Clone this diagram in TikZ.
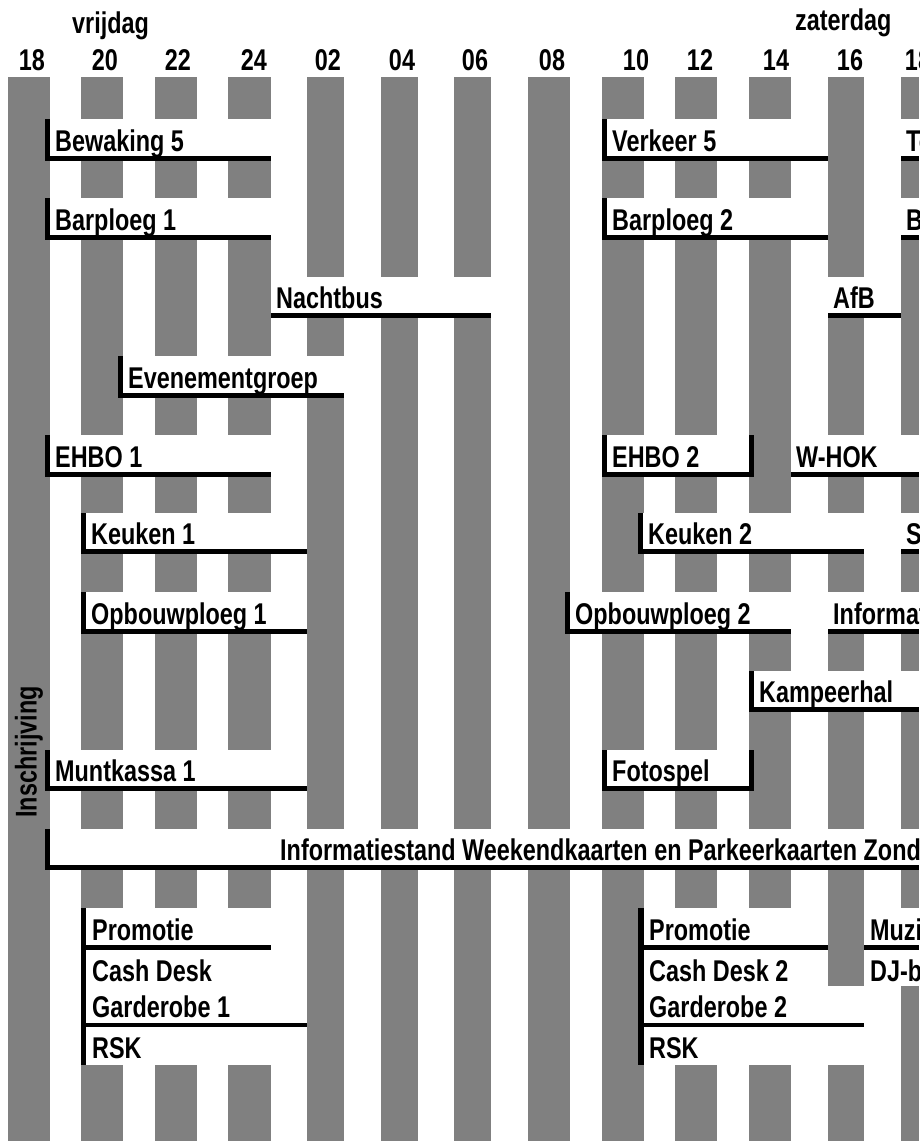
\documentclass[tikz,border=0pt]{standalone}
\usepackage{fontspec}
\newfontfamily\lblfont{Liberation Sans}[FakeStretch=0.78]
\definecolor{stripegray}{HTML}{808080}
\tikzset{
  lbl/.style={anchor=base west, inner sep=0pt, font=\lblfont\bfseries\fontsize{30}{34}\selectfont},
  hour/.style={anchor=base, inner sep=0pt, font=\lblfont\bfseries\fontsize{30}{34}\selectfont}
}
% name, x1, y1, x2, y2, leftbar(1/0), text
\newcommand\tslot[7]{%
  \fill[white] (#2,#3) rectangle (#4,#5);
  \fill[black] (#2,#5-5) rectangle (#4,#5);
  \ifnum#6=1 \fill[black] (#2,#3) rectangle (#2+5,#5);\fi
  \node[lbl] (#1) at (#2+5+5*#6,#5-10) {#7};
}
\begin{document}
\begin{tikzpicture}[x=1pt,y=-1pt]
\useasboundingbox (0,0) rectangle (919,1141);
\clip (0,0) rectangle (919,1141);
\fill[white] (0,0) rectangle (919,1141);
% stripes
\foreach \a/\b in {8/50,81/123,155/197,228/271,307/344,381/418,454/491,528/570,602/644,675/717,749/791,828/864,901/919}
  \fill[stripegray] (\a,77) rectangle (\b,1141);
% headers
\node[lbl] (vrij) at (72,33) {vrijdag};
\node[lbl] (zat) at (795,30) {zaterdag};
\foreach \x/\t [count=\i] in {32/18,105/20,178/22,254/24,328/02,402/04,475/06,552/08,636/10,700/12,776/14,850/16,918/18}
  \node[hour] (h\i) at (\x,70) {\t};
% row 1
\tslot{a1}{45}{119}{271}{161}{1}{Bewaking 5}
\tslot{a2}{602}{119}{828}{161}{1}{Verkeer 5}
\tslot{a3}{901}{119}{919}{161}{0}{Toiletten}
% row 2
\tslot{b1}{45}{198}{271}{240}{1}{Barploeg 1}
\tslot{b2}{602}{198}{828}{240}{1}{Barploeg 2}
\tslot{b3}{901}{198}{919}{240}{0}{Bar}
% row 3
\tslot{c1}{271}{277}{491}{318}{0}{Nachtbus}
\tslot{c2}{828}{277}{901}{318}{0}{AfB}
% row 4
\tslot{d1}{118}{356}{344}{398}{1}{Evenementgroep}
% row 5
\tslot{e1}{45}{435}{271}{477}{1}{EHBO 1}
\tslot{e2}{602}{435}{754}{477}{1}{EHBO 2}
\fill[black] (749,435) rectangle (754,477);
\tslot{e3}{791}{435}{919}{477}{0}{W-HOK}
% row 6
\tslot{f1}{81}{513}{307}{554}{1}{Keuken 1}
\tslot{f2}{638}{513}{864}{554}{1}{Keuken 2}
\tslot{f3}{901}{513}{919}{554}{0}{Schoonmaak}
% row 7
\tslot{g1}{81}{592}{307}{634}{1}{Opbouwploeg 1}
\tslot{g2}{565}{592}{791}{634}{1}{Opbouwploeg 2}
\tslot{g3}{828}{592}{919}{634}{0}{Informatie}
% row 8
\tslot{h1}{749}{671}{919}{712}{1}{Kampeerhal}
% row 9
\tslot{i1}{45}{750}{307}{791}{1}{Muntkassa 1}
\tslot{i2}{602}{750}{754}{791}{1}{Fotospel}
\fill[black] (749,750) rectangle (754,791);
% row 10
\tslot{j1}{45}{829}{919}{870}{1}{}
\node[lbl] (j2) at (280,860) {Informatiestand Weekendkaarten en Parkeerkaarten Zondag};
% vertical label
\node[lbl, anchor=center, rotate=90] (insch) at (29,752) {Inschrijving};
% group left
\fill[white] (81,908) rectangle (271,986);
\fill[white] (81,986) rectangle (307,1065);
\fill[black] (81,908) rectangle (86,1065);
\fill[black] (81,945) rectangle (271,950);
\fill[black] (81,1023) rectangle (307,1027);
\node[lbl] (w1) at (92,940) {Promotie};
\node[lbl] (w2) at (92,981) {Cash Desk};
\node[lbl] (w3) at (92,1017) {Garderobe 1};
\node[lbl] (w4) at (92,1058) {RSK};
% group right
\fill[white] (638,908) rectangle (828,986);
\fill[white] (638,986) rectangle (864,1065);
\fill[black] (638,908) rectangle (644,1065);
\fill[black] (638,945) rectangle (828,950);
\fill[black] (638,1023) rectangle (864,1027);
\node[lbl] (x1) at (649,940) {Promotie};
\node[lbl] (x2) at (649,981) {Cash Desk 2};
\node[lbl] (x3) at (649,1017) {Garderobe 2};
\node[lbl] (x4) at (649,1058) {RSK};
% group far right
\fill[white] (864,908) rectangle (919,986);
\fill[black] (864,945) rectangle (919,950);
\node[lbl] (y1) at (870,940) {Muziek};
\node[lbl] (y2) at (870,981) {DJ-booth};
\end{tikzpicture}
\end{document}
